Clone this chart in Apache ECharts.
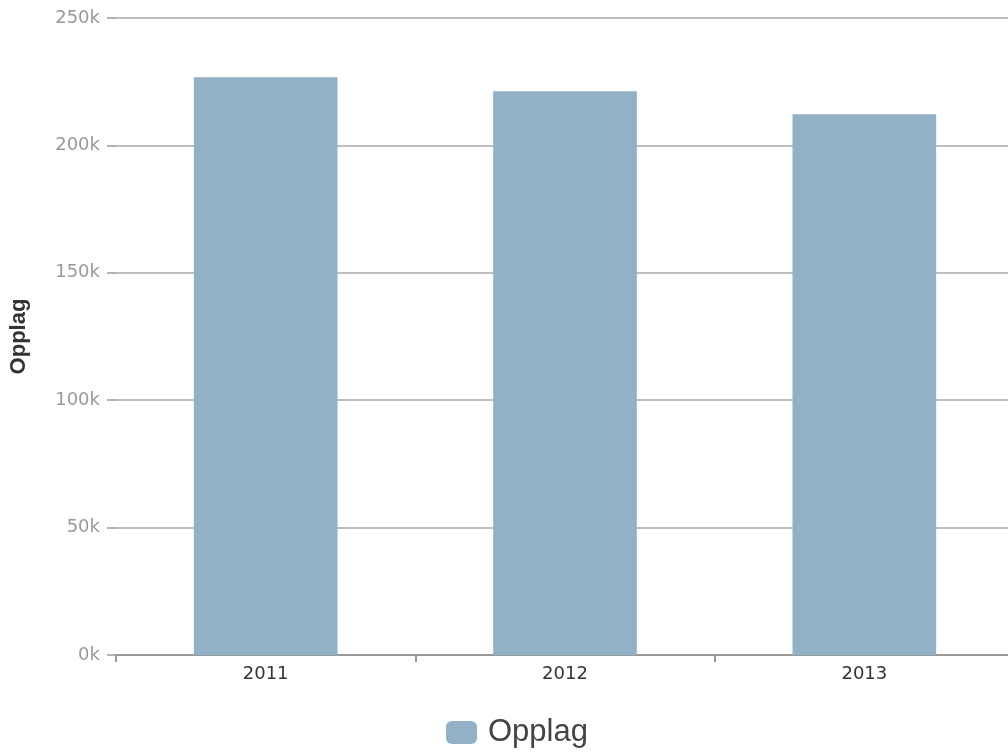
<!DOCTYPE html>
<html><head><meta charset="utf-8">
<script src="https://cdn.jsdelivr.net/npm/echarts@6/dist/echarts.min.js"></script>
<style>html,body{margin:0;padding:0;background:#fff}#c{width:1008px;height:755px}</style>
</head><body><div id="c"></div>
<script>
const categories = ['2011', '2012', '2013'];
const seriesName = 'Opplag';
const values = [226700, 221300, 212200];
const yMin = 0, yMax = 250000, yInterval = 50000;

const chart = echarts.init(document.getElementById('c'));
chart.setOption({
  animation: false,
  grid: { left: 116, right: -6, top: 18, bottom: 100, containLabel: false, outerBoundsMode: 'none' },
  legend: {
    data: [seriesName], bottom: 2, left: 441,
    itemWidth: 31, itemHeight: 23, itemGap: 10,
    icon: 'roundRect',
    textStyle: { fontSize: 31, color: '#444', fontFamily: 'Liberation Sans, Arial', padding: [0, 0, 0, 6] }
  },
  xAxis: {
    type: 'category', data: categories,
    axisLine: { lineStyle: { color: '#999', width: 2 } },
    axisTick: { show: true, length: 7, lineStyle: { color: '#999', width: 2 } },
    axisLabel: { color: '#333', fontSize: 18, margin: 10, fontFamily: 'DejaVu Sans, sans-serif' }
  },
  yAxis: {
    type: 'value', min: yMin, max: yMax, interval: yInterval,
    name: seriesName, nameLocation: 'middle', nameGap: 86, nameRotate: 90,
    nameTextStyle: { fontWeight: 'bold', fontSize: 22, color: '#333', fontFamily: 'Liberation Sans, Arial' },
    axisLine: { show: false },
    axisTick: { show: true, length: 9, lineStyle: { color: '#999', width: 1.5 } },
    splitLine: { lineStyle: { color: '#aaa', width: 1.5 } },
    axisLabel: { color: '#999', fontSize: 18, margin: 16, fontFamily: 'DejaVu Sans, sans-serif',
      formatter: v => (v / 1000) + 'k' }
  },
  series: [{
    name: seriesName, type: 'bar', data: values, barWidth: '48%',
    itemStyle: { color: '#93b1c6' }
  }]
});
</script></body></html>
